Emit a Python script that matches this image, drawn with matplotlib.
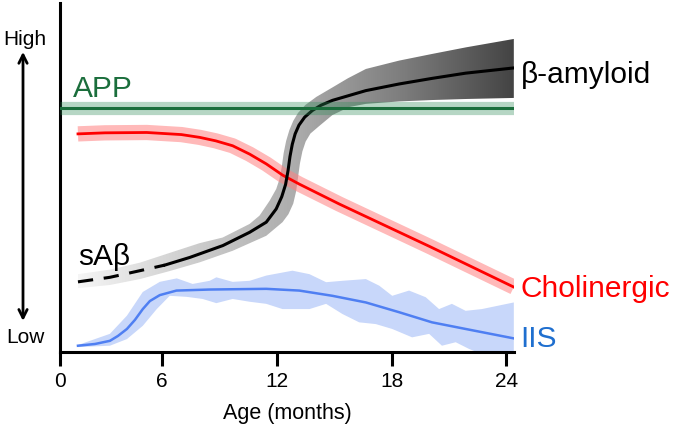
import numpy as np
import matplotlib
matplotlib.use('Agg')
import matplotlib.pyplot as plt
from matplotlib.colors import LinearSegmentedColormap

plt.rcParams['font.family'] = ['Liberation Sans', 'DejaVu Sans']

# ages in months, levels on a 0 (Low) .. 100 (High) scale
x_start, x_end = 0.65, 24.4

app_months = [0.65, 24.39]
app_level = [69.9, 69.9]

chol_months = [1.59, 3.0, 5.19, 7.0, 7.96, 8.8, 9.68, 10.57, 11.44, 12.29, 13.17, 15.26, 20.0, 24.39]
chol_level = [62.5, 62.8, 62.9, 62.3, 61.5, 60.5, 59.1, 56.7, 53.9, 50.7, 48.1, 42.4, 30.2, 18.6]

# beta-amyloid centre line (first points = soluble A-beta, dashed)
amy_months = [1.59, 3.26, 4.83, 6.13, 7.44, 9.17, 10.57, 11.44, 11.96, 12.25, 12.45,
              12.58, 12.68, 12.80, 12.95, 13.15, 13.45, 13.85, 14.30, 14.90, 16.65,
              18.39, 20.11, 21.87, 24.39]
amy_level = [20.1, 21.4, 23.3, 24.9, 27.1, 30.5, 34.3, 37.2, 41.0, 44.5, 48.0,
             52.0, 56.0, 59.5, 62.5, 65.0, 67.3, 69.2, 70.7, 72.1, 74.9,
             76.8, 78.4, 79.9, 81.4]
n_dashed = 4

amy_up_months = [1.59, 3.26, 4.83, 6.39, 7.96, 9.16, 10.57, 11.09, 11.61, 11.96, 12.13,
                 12.25, 12.35, 12.48, 12.65, 12.85, 13.10, 13.49, 14.06, 14.90, 15.70,
                 16.65, 18.39, 20.11, 21.89, 24.39]
amy_up = [22.3, 23.6, 25.6, 28.4, 31.2, 32.8, 36.7, 39.1, 43.3, 46.7, 49.5,
          53.0, 57.0, 60.5, 63.6, 66.2, 68.5, 70.8, 73.1, 75.8, 78.4,
          81.1, 83.5, 85.4, 87.3, 89.7]
amy_lo_months = [1.59, 3.26, 4.83, 6.39, 7.96, 9.68, 11.44, 12.29, 12.60, 12.85, 13.00,
                 13.10, 13.20, 13.33, 13.50, 13.75, 14.22, 14.90, 15.78, 16.65, 18.39,
                 20.11, 21.89, 24.39]
amy_lo = [18.3, 19.2, 20.9, 23.2, 25.7, 29.0, 33.3, 37.2, 39.5, 42.5, 46.0,
          50.0, 54.0, 57.5, 60.3, 62.6, 64.8, 67.9, 70.2, 71.1, 71.8,
          72.2, 72.5, 72.8]

iis_months = [1.59, 2.48, 3.26, 3.68, 4.15, 4.57, 4.98, 5.35, 5.87, 6.74, 8.48, 11.44,
              13.17, 14.90, 16.65, 18.39, 20.11, 21.87, 24.39]
iis_level = [1.8, 2.3, 3.2, 4.6, 6.6, 9.2, 12.3, 14.6, 16.3, 17.6, 17.9, 18.1,
             17.6, 16.1, 14.2, 11.4, 8.5, 6.6, 3.9]

iis_up_months = [1.59, 3.26, 4.15, 4.98, 5.87, 6.76, 7.59, 8.48, 8.83, 9.68, 10.57, 11.44,
                 12.81, 13.70, 14.57, 15.42, 16.65, 17.35, 18.03, 18.91, 19.78, 20.48,
                 21.15, 21.87, 22.72, 24.39]
iis_up = [2.0, 5.2, 10.4, 17.2, 20.1, 21.1, 19.5, 20.4, 21.4, 20.1, 20.4, 21.9,
          23.3, 22.3, 20.0, 20.4, 20.9, 19.0, 16.1, 17.6, 15.7, 12.3,
          13.8, 11.8, 12.3, 14.2]
iis_lo_months = [1.59, 3.26, 4.15, 4.98, 5.71, 6.39, 7.28, 8.11, 8.83, 9.68, 10.57, 11.44,
                 12.29, 13.70, 14.57, 15.42, 16.30, 17.17, 18.03, 19.07, 19.96, 20.63,
                 21.35, 22.04, 22.72, 24.39]
iis_lo = [1.4, 1.8, 3.7, 7.5, 12.3, 16.1, 15.8, 15.2, 14.0, 15.2, 14.4, 13.8,
          12.3, 12.3, 13.8, 10.9, 8.5, 8.0, 6.6, 4.2, 5.2, 1.8,
          2.8, 0.9, -0.6, -0.6]

tick_pos = [x_start, 6, 12, 18, 24]
tick_labels = ['0', '6', '12', '18', '24']

fig = plt.figure(figsize=(6.75, 4.27), dpi=100)
ax = fig.add_axes([0.0889, 0.1733, 0.6726, 0.8173])

# IIS
ax.fill(np.r_[iis_up_months, iis_lo_months[::-1]], np.r_[iis_up, iis_lo[::-1]],
        color='#c8d7fa', lw=0, zorder=1)
ax.plot(iis_months, iis_level, color='#4f7ff2', lw=1.8, zorder=2)

# beta-amyloid band with left-to-right grey gradient
band = ax.fill(np.r_[amy_up_months, amy_lo_months[::-1]], np.r_[amy_up, amy_lo[::-1]],
               facecolor='none', edgecolor='none')[0]
greys = LinearSegmentedColormap.from_list(
    'greys', [(0, '#f6f6f6'), (0.2, '#d6d6d6'), (0.5, '#acacac'),
              (0.75, '#7c7c7c'), (1, '#444444')])
grad = ax.imshow(np.linspace(0, 1, 256).reshape(1, -1), extent=[1.59, 24.39, 0, 100],
                 aspect='auto', cmap=greys, zorder=3, interpolation='bicubic')
grad.set_clip_path(band)

# cholinergic
ax.plot(chol_months, chol_level, color='#ff8080', alpha=0.55, lw=11,
        solid_capstyle='butt', solid_joinstyle='round', zorder=4)
ax.plot(chol_months, chol_level, color='#ff0000', lw=2, zorder=5)

ax.plot(amy_months[:n_dashed], amy_level[:n_dashed], color='k', lw=2.2,
        ls=(0, (5, 3.5)), zorder=6)
ax.plot(amy_months[n_dashed - 1:], amy_level[n_dashed - 1:], color='k', lw=2.2,
        solid_joinstyle='round', zorder=6)

# APP
ax.plot(app_months, app_level, color='#2e8b57', alpha=0.35, lw=9.5,
        solid_capstyle='butt', zorder=7)
ax.plot(app_months, app_level, color='#1b6e3c', lw=2.2, zorder=8)

ax.set_xlim(x_start, x_end)
ax.set_ylim(0, 100)
ax.set_xticks(tick_pos)
ax.set_xticklabels(tick_labels)
ax.set_yticks([])
for s in ['top', 'right']:
    ax.spines[s].set_visible(False)
for s in ['left', 'bottom']:
    ax.spines[s].set_linewidth(2.2)
ax.tick_params(axis='x', length=10, width=2.2, labelsize=15, pad=4)
ax.set_xlabel('Age (months)', fontsize=15.5, labelpad=8)

# series labels
ax.text(1.33, 73.4, 'APP', color='#1b6e3c', fontsize=21.5, va='baseline')
ax.text(1.59, 25.2, 'sAβ', color='k', fontsize=21.5, va='baseline')
ax.text(24.75, 77.4, 'β-amyloid', color='k', fontsize=21.5, va='baseline', clip_on=False)
ax.text(24.75, 16.1, 'Cholinergic', color='#ff0000', fontsize=21.5, va='baseline', clip_on=False)
ax.text(24.75, 1.8, 'IIS', color='#1f6fcf', fontsize=21.5, va='baseline', clip_on=False)

# High / Low arrow
ax.annotate('', xy=(-0.0815, 0.86), xytext=(-0.0815, 0.089), xycoords='axes fraction',
            arrowprops=dict(arrowstyle='<->,head_length=0.6,head_width=0.3', lw=2,
                            color='k', shrinkA=0, shrinkB=0),
            annotation_clip=False)
ax.text(-0.077, 0.897, 'High', transform=ax.transAxes, fontsize=15,
        ha='center', va='center')
ax.text(-0.077, 0.043, 'Low', transform=ax.transAxes, fontsize=15,
        ha='center', va='center')

fig.savefig('out.png', dpi=100)
